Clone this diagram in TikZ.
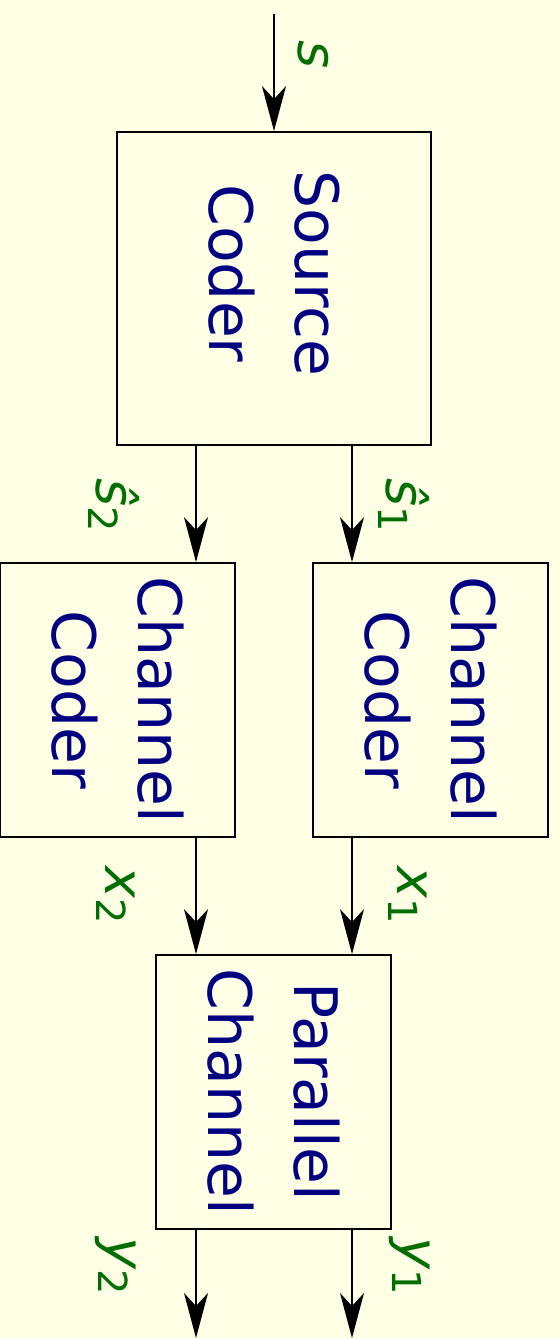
\documentclass[tikz,border=0pt]{standalone}
\usepackage{fontspec}
\setmainfont{DejaVu Sans}
\usetikzlibrary{arrows.meta}
\definecolor{bgcol}{RGB}{255,255,230}
\definecolor{txtcol}{RGB}{0,0,128}
\definecolor{lblcol}{RGB}{0,110,0}
\tikzset{
  blockbox/.style={draw=black, line width=1.8pt, fill=bgcol, rotate=-90, align=center,
    text=txtcol, font=\fontsize{60}{86}\selectfont, inner sep=0pt},
  sig/.style={line width=1.8pt, -{Stealth[length=45pt, width=24pt, inset=13pt]}},
  lbl/.style={text=lblcol, rotate=-90, font=\fontsize{54}{54}\selectfont\itshape, inner sep=0pt}
}
\newcommand{\sbx}[1]{\raisebox{-0.16em}{\fontsize{40}{40}\selectfont\upshape #1}}
\begin{document}
\begin{tikzpicture}[x=1pt,y=-1pt]
\useasboundingbox[fill=bgcol] (0,0) rectangle (559,1338);
% boxes
\node[blockbox, minimum width=313pt, minimum height=314pt] (src) at (274,288.5) {Source\hspace*{30pt}\\Coder\hspace*{30pt}};
\node[blockbox, minimum width=274pt, minimum height=235pt] (cc2) at (117.5,700) {Channel\\Coder};
\node[blockbox, minimum width=274pt, minimum height=235pt] (cc1) at (430.5,700) {Channel\\Coder};
\node[blockbox, minimum width=274pt, minimum height=235pt] (pc) at (273.5,1092) {Parallel\\Channel};
% coordinates
\coordinate (in) at (274,14);
\coordinate (o2) at (196,1338);
\coordinate (o1) at (352,1338);
% arrows
\draw[sig] (in) -- (src.west);
\draw[sig] (src.east -| o2) -- (cc2.west -| o2);
\draw[sig] (src.east -| o1) -- (cc1.west -| o1);
\draw[sig] (cc2.east -| o2) -- (pc.west -| o2);
\draw[sig] (cc1.east -| o1) -- (pc.west -| o1);
\draw[sig] (pc.east -| o2) -- (o2);
\draw[sig] (pc.east -| o1) -- (o1);
% labels
\node[lbl] (ls) at (313,55) {s};
\node[lbl] (ls2) at (114,505) {ŝ\sbx{2}};
\node[lbl] (ls1) at (404,505) {ŝ\sbx{1}};
\node[lbl] (lx2) at (116,895) {x\sbx{2}};
\node[lbl] (lx1) at (408,895) {x\sbx{1}};
\node[lbl] (ly2) at (116,1266) {y\sbx{2}};
\node[lbl] (ly1) at (410,1266) {y\sbx{1}};
\end{tikzpicture}
\end{document}
